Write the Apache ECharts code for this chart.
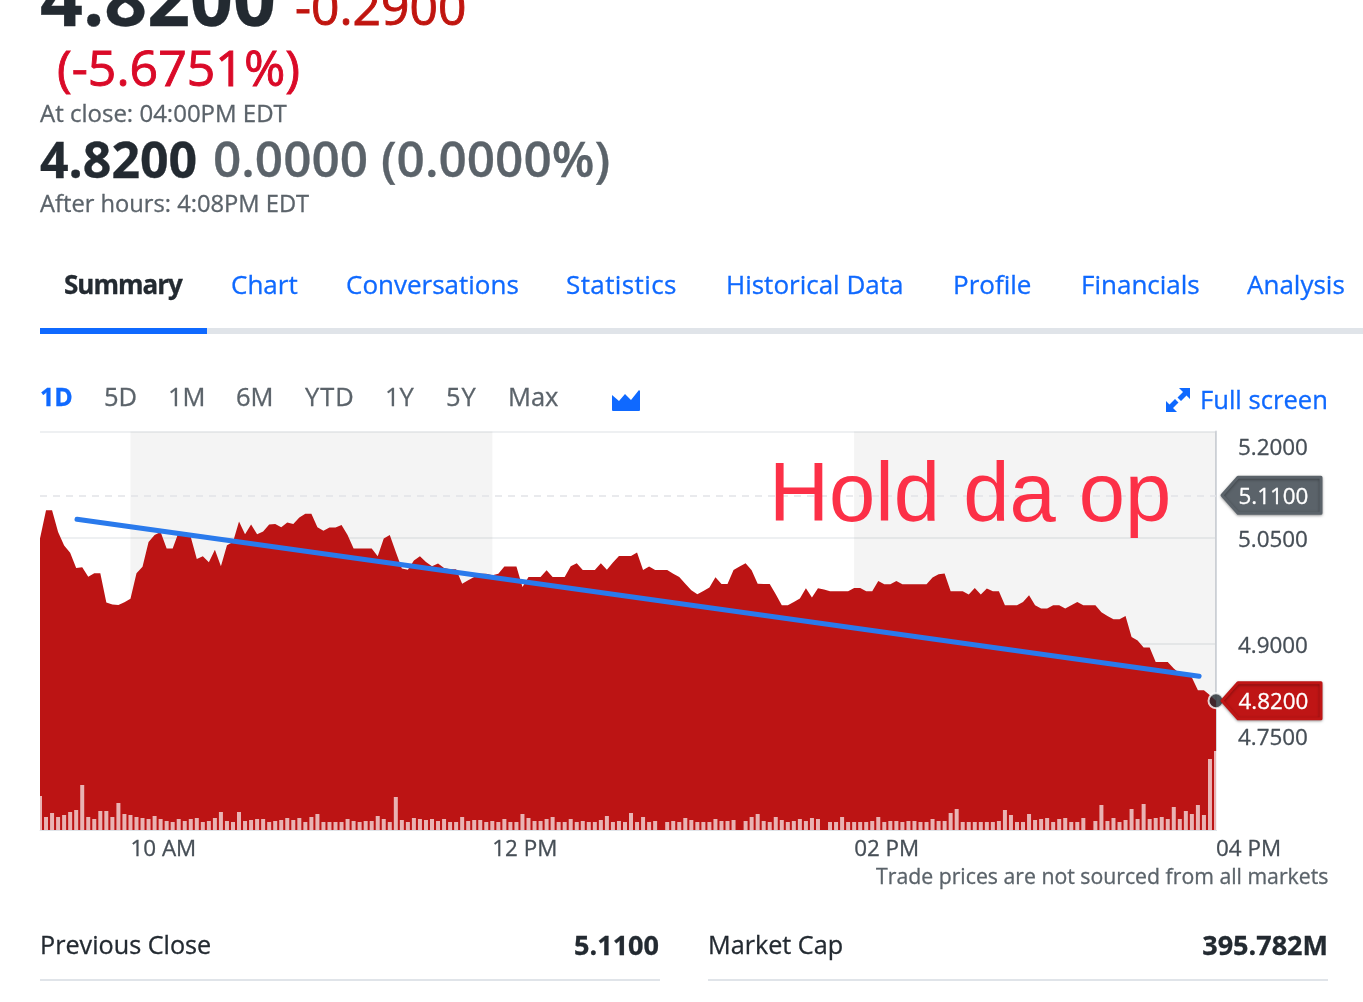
<!DOCTYPE html>
<html>
<head>
<meta charset="utf-8">
<title>Quote summary</title>
<script src="https://cdn.jsdelivr.net/npm/echarts@6/dist/echarts.min.js"></script>
<style>
  html, body { margin: 0; padding: 0; background: #fff; }
  body { width: 1363px; height: 1002px; overflow: hidden; position: relative; font-family: "Open Sans", sans-serif; }
  #chart { position: absolute; left: 0; top: 0; width: 1363px; height: 1002px; }
  .t { position: absolute; white-space: nowrap; line-height: 1; -webkit-text-stroke: 0.3px currentColor; }
  .blue { color: #0f69ff; }
  .grey { color: #5b636a; }
  .ink { color: #232a31; }
  .rule { position: absolute; height: 2px; background: #e0e4e9; }
</style>
</head>
<body>
<div id="chart"></div>

<div class="t ink" style="left:40px;top:-40px;font-size:75px;font-weight:700">4.8200</div>
<div class="t" style="left:295px;top:-18px;font-size:49.8px;color:#c0150f;-webkit-text-stroke-width:0.9px">-0.2900</div>
<div class="t" style="left:57px;top:42px;font-size:50px;color:#da0a28;-webkit-text-stroke-width:0.9px">(-5.6751%)</div>
<div class="t grey" style="left:40px;top:101px;font-size:24px">At close: 04:00PM EDT</div>
<div class="t ink" style="left:40px;top:134px;font-size:50px;font-weight:700">4.8200</div>
<div class="t grey" style="left:213px;top:134px;font-size:49.5px;font-weight:600">0.0000 (0.0000%)</div>
<div class="t grey" style="left:40px;top:192px;font-size:23.7px">After hours: 4:08PM EDT</div>

<div class="t ink" style="left:64px;top:271px;font-size:26px;font-weight:700;letter-spacing:-1px">Summary</div>
<div class="t blue" style="left:231px;top:271px;font-size:26px">Chart</div>
<div class="t blue" style="left:346px;top:271px;font-size:26px">Conversations</div>
<div class="t blue" style="left:566px;top:271px;font-size:26px;letter-spacing:0.4px">Statistics</div>
<div class="t blue" style="left:726px;top:271px;font-size:26px">Historical Data</div>
<div class="t blue" style="left:953px;top:271px;font-size:26px">Profile</div>
<div class="t blue" style="left:1081px;top:271px;font-size:26px">Financials</div>
<div class="t blue" style="left:1247px;top:271px;font-size:26px">Analysis</div>
<div style="position:absolute;left:207px;top:328px;width:1156px;height:6px;background:#e0e4e9"></div>
<div style="position:absolute;left:40px;top:328px;width:167px;height:6px;background:#0f69ff"></div>

<div class="t blue" style="left:40px;top:384px;font-size:25px;font-weight:700">1D</div>
<div class="t grey" style="left:104px;top:384px;font-size:25.5px">5D</div>
<div class="t grey" style="left:168px;top:384px;font-size:25.5px">1M</div>
<div class="t grey" style="left:236px;top:384px;font-size:25.5px">6M</div>
<div class="t grey" style="left:305px;top:384px;font-size:25.5px;letter-spacing:1px">YTD</div>
<div class="t grey" style="left:385px;top:384px;font-size:25.5px">1Y</div>
<div class="t grey" style="left:446px;top:384px;font-size:25.5px;letter-spacing:1px">5Y</div>
<div class="t grey" style="left:508px;top:384px;font-size:25.5px">Max</div>
<svg style="position:absolute;left:612px;top:390px" width="28" height="22" viewBox="0 0 28 22"><path fill="#0f69ff" d="M0 5 L7 11 L13 4 L19 10 L27 0 L28 1 L28 20 Q28 21 27 21 L1 21 Q0 21 0 20 Z"/></svg>
<svg style="position:absolute;left:1165px;top:387px" width="26" height="26" viewBox="0 0 26 26"><path fill="#0f69ff" d="M14 1 H25 V12 L21.5 8.5 L16 14 L12.5 10.5 L18 5 Z M1 25 V14 L4.5 17.5 L10 12 L13.5 15.5 L8 21 L12 25 Z"/></svg>
<div class="t blue" style="left:1200px;top:387px;font-size:25.6px">Full screen</div>

<div class="t grey" style="left:876px;top:865px;font-size:21.25px">Trade prices are not sourced from all markets</div>
<div class="t ink" style="left:40px;top:932px;font-size:25.2px">Previous Close</div>
<div class="t ink" style="right:704px;top:931px;font-size:27px;font-weight:700">5.1100</div>
<div class="t ink" style="left:708px;top:932px;font-size:25.2px">Market Cap</div>
<div class="t ink" style="right:35px;top:931px;font-size:27px;font-weight:700">395.782M</div>
<div class="rule" style="left:40px;top:979px;width:620px"></div>
<div class="rule" style="left:708px;top:979px;width:620px"></div>

<script>
// Session runs 09:30 to 16:00; x values are minutes after the open.
const stepMinutes = 2;
const sessionMinutes = 390;

const prices = [
  5.049, 5.089, 5.089, 5.058, 5.039, 5.029, 5.0075, 5.0084, 4.995, 5.0,
  5.0, 4.9586, 4.956, 4.955, 4.959, 4.964, 5.0, 5.009, 5.044, 5.054,
  5.058, 5.035, 5.035, 5.058, 5.058, 5.051, 5.02, 5.024, 5.0155, 5.033,
  5.01, 5.0395, 5.044, 5.073, 5.055, 5.0686, 5.055, 5.059, 5.0686, 5.0696,
  5.065, 5.0715, 5.0696, 5.0785, 5.084, 5.084, 5.065, 5.06, 5.0645, 5.0645,
  5.068, 5.054, 5.035, 5.035, 5.035, 5.035, 5.024, 5.049, 5.054, 5.03,
  5.0065, 5.005, 5.018, 5.024, 5.016, 5.01, 5.0136, 5.0074, 5.0056, 5.0056,
  4.9853, 4.99, 4.9947, 4.9994, 4.9994, 4.997, 4.9994, 5.0093, 5.0093, 5.0093,
  4.9806, 4.9947, 4.9947, 4.9947, 5.0041, 4.9947, 4.9947, 4.9947, 5.0098, 5.014,
  5.0046, 5.0046, 5.0046, 5.014, 5.005, 5.015, 5.0244, 5.0244, 5.0244, 5.0291,
  5.0046, 5.0093, 5.0046, 5.0046, 5.0046, 4.9994, 4.9947, 4.9853, 4.9759, 4.9703,
  4.975, 4.9797, 4.9943, 4.9849, 4.9849, 5.0046, 5.0093, 5.014, 5.0041, 4.9853,
  4.9849, 4.9849, 4.9703, 4.9547, 4.9547, 4.9594, 4.9642, 4.9787, 4.9656, 4.9787,
  4.9769, 4.9745, 4.9745, 4.9745, 4.9745, 4.9792, 4.9792, 4.9745, 4.9745, 4.9891,
  4.9844, 4.9844, 4.9891, 4.9844, 4.9844, 4.9844, 4.9844, 4.9844, 4.9938, 4.9985,
  4.9995, 4.9745, 4.9745, 4.9745, 4.9698, 4.9792, 4.9698, 4.9783, 4.9745, 4.9745,
  4.9548, 4.9548, 4.9548, 4.9595, 4.9689, 4.9548, 4.9501, 4.9501, 4.9548, 4.9548,
  4.9501, 4.9548, 4.9595, 4.9548, 4.9548, 4.9548, 4.9449, 4.9397, 4.935, 4.935,
  4.9397, 4.9101, 4.9049, 4.895, 4.895, 4.8748, 4.8748, 4.8748, 4.8654, 4.8583,
  4.8583, 4.8527, 4.8348, 4.8348, 4.8278, 4.82
];

const volumes = [
  34, 13, 17, 13, 15, 18, 20, 45, 13, 11, 19, 19, 13, 27, 16, 15, 13, 12, 11, 14,
  11, 9, 8, 11, 9, 11, 12, 8, 9, 12, 18, 9, 8, 18, 9, 10, 11, 11, 8, 9,
  10, 12, 10, 12, 8, 13, 16, 8, 8, 8, 8, 11, 9, 8, 9, 9, 14, 11, 8, 33,
  10, 8, 12, 11, 10, 11, 9, 11, 8, 8, 13, 9, 10, 10, 8, 9, 8, 11, 8, 8,
  16, 12, 9, 9, 11, 13, 8, 8, 11, 8, 9, 8, 8, 10, 14, 8, 9, 8, 17, 8,
  13, 8, 9, 0, 8, 9, 8, 12, 10, 8, 8, 8, 11, 9, 9, 10, 0, 9, 13, 16,
  9, 8, 13, 10, 8, 9, 11, 9, 12, 11, 0, 8, 8, 13, 8, 8, 8, 8, 9, 13,
  8, 9, 9, 8, 9, 9, 8, 8, 11, 9, 9, 17, 21, 8, 8, 8, 8, 8, 8, 9,
  20, 15, 8, 8, 16, 10, 11, 12, 8, 11, 12, 8, 8, 12, 0, 9, 25, 9, 12, 8,
  10, 21, 11, 26, 11, 12, 13, 11, 23, 11, 19, 16, 25, 15, 71, 79
];

const xTickMinutes = [30, 150, 270, 390];
const xTickLabels = ['10 AM', '12 PM', '02 PM', '04 PM'];
const yTicks = [5.2, 5.05, 4.9, 4.75];
const priceMax = 5.2;
const priceMin = 4.6376;
const volumeMax = 398.5;

const shadedHours = [[30, 150], [270, 390]];
const previousClose = 5.11;
const lastPrice = 4.82;
const trendLine = [[12.27, 5.0761], [384.4, 4.8546]];
const note = 'Hold da op';

const minuteOf = i => i * stepMinutes;
const priceSeries = prices.map((p, i) => [minuteOf(i), p]);
const volumeSeries = volumes.map((v, i) => [minuteOf(i), v]);
const tags = [[sessionMinutes, previousClose, '#5b636a'], [sessionMinutes, lastPrice, '#bf1515']];

const chart = echarts.init(document.getElementById('chart'), null, { renderer: 'canvas' });
const uiFont = '"Open Sans", sans-serif';
const labelStyle = { color: '#464e56', fontFamily: uiFont, fontSize: 22.4, textBorderColor: '#464e56', textBorderWidth: 0.3 };

chart.setOption({
  animation: false,
  grid: { left: 40, top: 431.5, width: 1176, height: 398.5, containLabel: false },
  xAxis: {
    type: 'value', min: 0, max: sessionMinutes,
    axisLine: { show: true, lineStyle: { color: '#e0e4e9', width: 1 } },
    axisTick: { show: false },
    splitLine: { show: false },
    axisLabel: Object.assign({}, labelStyle, {
      customValues: xTickMinutes,
      formatter: v => xTickLabels[xTickMinutes.indexOf(v)],
      align: 'left', margin: 9,
      showMinLabel: true, showMaxLabel: true, hideOverlap: false
    })
  },
  yAxis: [
    {
      type: 'value', position: 'right', min: priceMin, max: priceMax,
      axisLine: { show: true, onZero: false, lineStyle: { color: '#d5d9de', width: 2 } },
      axisTick: { show: false, customValues: yTicks },
      splitLine: { show: true, lineStyle: { color: '#e9ebee', width: 1.5 } },
      axisLabel: Object.assign({}, labelStyle, {
        customValues: yTicks,
        margin: 22,
        // The top and bottom labels sit clear of the chart's edge lines.
        formatter: v => {
          const s = v.toFixed(4);
          if (v === 5.2) return '{low|' + s + '}';
          if (v === 4.75) return '{high|' + s + '}';
          return '{mid|' + s + '}';
        },
        rich: {
          low: Object.assign({}, labelStyle, { padding: [34, 0, 0, 0] }),
          mid: Object.assign({}, labelStyle, { padding: [6, 0, 0, 0] }),
          high: Object.assign({}, labelStyle, { padding: [0, 0, 24, 0] })
        }
      })
    },
    { type: 'value', min: 0, max: volumeMax, show: false }
  ],
  series: [
    {
      name: 'Price', type: 'line', data: priceSeries, symbol: 'none', z: 3,
      lineStyle: { width: 0 },
      areaStyle: { color: '#bc1414', opacity: 1 },
      markArea: {
        silent: true, z: 1,
        // Translucent so the grid lines stay visible through the bands.
        itemStyle: { color: 'rgba(35,42,49,0.05)' },
        data: shadedHours.map(h => [{ xAxis: h[0] }, { xAxis: h[1] }])
      },
      markLine: {
        silent: true, symbol: 'none', z: 2,
        label: { show: false },
        lineStyle: { color: '#e2e4e7', type: [7, 6], width: 1.5 },
        data: [{ yAxis: previousClose }]
      }
    },
    {
      name: 'Volume', type: 'bar', yAxisIndex: 1, data: volumeSeries, barWidth: 4, z: 4,
      itemStyle: { color: '#ffffff', opacity: 0.68 }
    },
    {
      name: 'Trend', type: 'line', data: trendLine, symbol: 'none', z: 5,
      lineStyle: { color: '#2a7aec', width: 5, cap: 'round' }
    },
    {
      name: 'Last', type: 'scatter', data: [[sessionMinutes, lastPrice]], clip: false, z: 6,
      symbolSize: 15, itemStyle: { color: '#232a31', borderColor: '#fff', borderWidth: 2 }
    },
    {
      // Value tags pinned to the right edge, each pointing at its price level.
      name: 'Tags', type: 'custom', data: tags, clip: false, z: 7,
      renderItem: (params, api) => {
        const p = api.coord([api.value(0), api.value(1)]);
        const color = tags[params.dataIndex][2];
        const x = p[0], y = p[1];
        return {
          type: 'group',
          children: [
            {
              type: 'polygon',
              shape: { points: [[x + 6, y], [x + 22, y - 18], [x + 105, y - 18], [x + 105, y + 18], [x + 22, y + 18]] },
              style: { fill: color, stroke: color, lineWidth: 3, lineJoin: 'round', shadowColor: 'rgba(0,0,0,0.35)', shadowBlur: 3, shadowOffsetY: 1 }
            },
            {
              type: 'text',
              style: { x: x + 22.5, y: y + 2, text: api.value(1).toFixed(4), fill: '#fff', stroke: '#fff', lineWidth: 0.3, font: '22.4px ' + uiFont, verticalAlign: 'middle' }
            }
          ]
        };
      }
    }
  ],
  graphic: [
    {
      type: 'text', left: 769, top: 457, z: 20,
      style: { text: note, fill: '#fc3047', font: '83.2px "Liberation Sans", sans-serif' }
    }
  ]
});
</script>
</body>
</html>
